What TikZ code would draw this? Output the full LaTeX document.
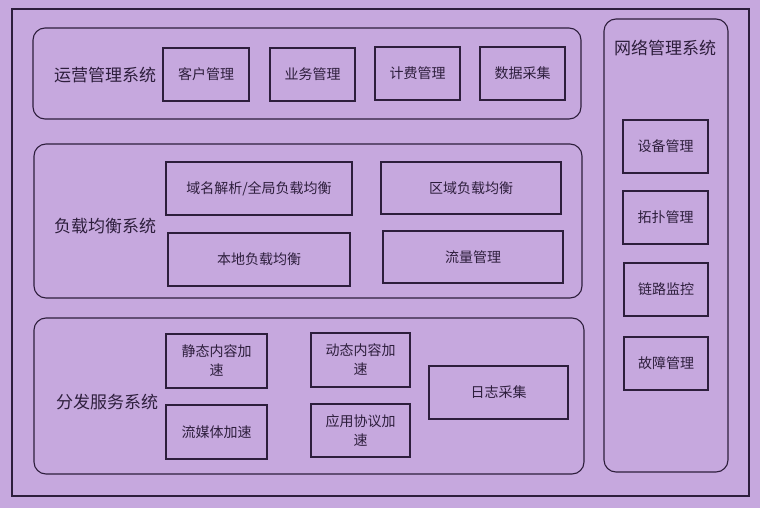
\documentclass[tikz,border=0pt]{standalone}
\usepackage{fontspec}
\setmainfont{Noto Sans CJK SC}
\definecolor{bg}{RGB}{198,168,222}
\definecolor{ink}{RGB}{45,30,60}
\begin{document}
\begin{tikzpicture}[x=1pt,y=-1pt,
  every node/.style={inner sep=0pt,outer sep=0pt,text=ink},
  frame/.style={draw=ink,line width=1.2pt},
  group/.style={draw=ink,line width=1.1pt,rounded corners=12pt},
  modbox/.style={draw=ink,line width=1.1pt,minimum height=53pt,font=\fontsize{14}{19}\selectfont,align=center},
  glabel/.style={font=\fontsize{17}{20}\selectfont}]
\fill[bg] (0,0) rectangle (760,508);
\useasboundingbox (0,0) rectangle (760,508);
\node[frame,minimum width=737pt,minimum height=487pt] (outer) at (380.5,252.5) {};
% groups
\node[group,minimum width=548pt,minimum height=91pt] (ops) at (307,73.5) {};
\node[group,minimum width=548pt,minimum height=154pt] (lb) at (308,221) {};
\node[group,minimum width=550pt,minimum height=156pt] (dist) at (309,396) {};
\node[group,minimum width=124pt,minimum height=453pt] (net) at (666,245.5) {};
% group labels
\node[glabel] (opsl) at (105,75) {运营管理系统};
\node[glabel] (lbl) at (105,226) {负载均衡系统};
\node[glabel] (distl) at (107,402) {分发服务系统};
\node[glabel] (netl) at (665,48) {网络管理系统};
% ops modules
\node[modbox,minimum width=86pt] (kh) at (206,74.5) {客户管理};
\node[modbox,minimum width=85pt] (yw) at (312.5,74.5) {业务管理};
\node[modbox,minimum width=85pt] (jf) at (417.5,73.5) {计费管理};
\node[modbox,minimum width=85pt] (sj) at (522.5,73.5) {数据采集};
% load balancing modules
\node[modbox,minimum width=186pt] (ym) at (259,188.5) {域名解析/全局负载均衡};
\node[modbox,minimum width=180pt,minimum height=52pt] (qy) at (471,188) {区域负载均衡};
\node[modbox,minimum width=182pt] (bd) at (259,259.5) {本地负载均衡};
\node[modbox,minimum width=180pt,minimum height=52pt] (ll) at (473,257) {流量管理};
% distribution modules
\node[modbox,minimum width=101pt,minimum height=54pt] (jt) at (216.5,361) {静态内容加\\速};
\node[modbox,minimum width=101pt,minimum height=54pt] (lmt) at (216.5,432) {流媒体加速};
\node[modbox,minimum width=99pt,minimum height=54pt] (dt) at (360.5,360) {动态内容加\\速};
\node[modbox,minimum width=99pt] (yy) at (360.5,430.5) {应用协议加\\速};
\node[modbox,minimum width=139pt] (rz) at (498.5,392.5) {日志采集};
% network modules
\node[modbox,minimum width=85pt] (sb) at (665.5,146.5) {设备管理};
\node[modbox,minimum width=85pt] (tp) at (665.5,217.5) {拓扑管理};
\node[modbox,minimum width=84pt] (lj) at (666,289.5) {链路监控};
\node[modbox,minimum width=84pt] (gz) at (666,363.5) {故障管理};
\end{tikzpicture}
\end{document}
